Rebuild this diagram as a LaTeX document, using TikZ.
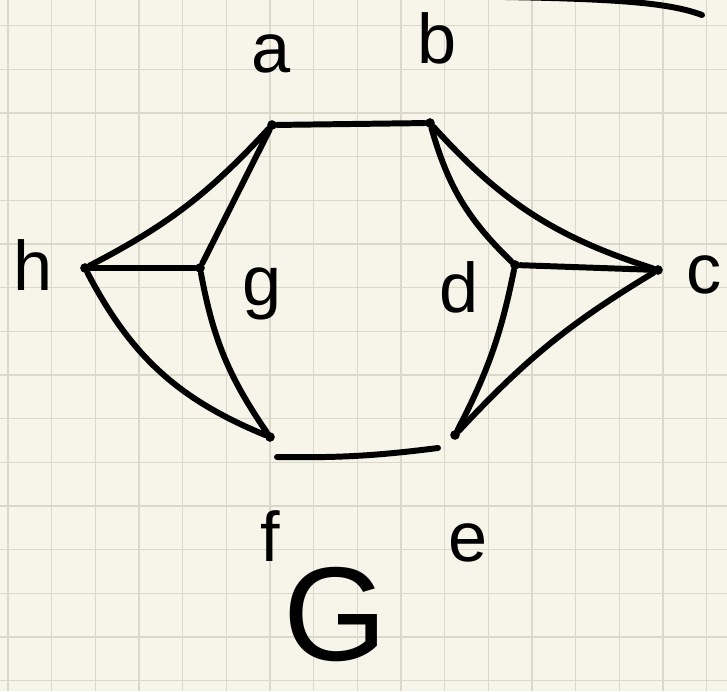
\documentclass[tikz,border=0pt]{standalone}
\usepackage{fontspec}
\setmainfont{Liberation Sans}
\usepackage{xcolor}
\usetikzlibrary{positioning,calc}
\definecolor{paper}{HTML}{F7F5EA}
\definecolor{gridln}{HTML}{DAD8CB}

\begin{document}
\begin{tikzpicture}[x=0.02cm, y=-0.02cm,
  vtx/.style={circle, fill=black, inner sep=0pt, minimum size=5.5pt},
  pen/.style={line width=3.4pt, line cap=round},
  lbl/.style={font=\fontsize{40}{40}\selectfont, inner sep=0pt, anchor=base},
  big/.style={font=\fontsize{76}{76}\selectfont, inner sep=0pt, anchor=base}]
\useasboundingbox (0,0) rectangle (727,691);
\clip (0,0) rectangle (727,691);
\fill[paper] (0,0) rectangle (727,691);
\foreach \i in {0,...,16}
  \draw[gridln, line width=0.8pt] ({8+43.67*\i},0) -- ({8+43.67*\i},691);
\foreach \j in {0,...,15}
  \draw[gridln, line width=0.8pt] (0,{25.7+43.67*\j}) -- (727,{25.7+43.67*\j});
\node[vtx] (a) at (272,125) {};
\node[vtx] (b) at (430,123) {};
\node[vtx] (c) at (658,270) {};
\node[vtx] (d) at (515,265) {};
\node[vtx] (e) at (455,435) {};
\node[vtx] (f) at (270,437) {};
\node[vtx] (g) at (200,268) {};
\node[vtx] (h) at (85,268) {};
\node[lbl] (la) at (271,72) {a};
\node[lbl] (lb) at (437,63) {b};
\node[lbl] (lc) at (704,293) {c};
\node[lbl] (ld) at (459,312) {d};
\node[lbl] (le) at (468,561) {e};
\node[lbl] (lf) at (270,561) {f};
\node[lbl] (lg) at (262,305) {g};
\node[lbl] (lh) at (33,290) {h};
\node[big] (lG) at (335,660) {G};
\draw[pen] (a) -- (b);
\draw[pen] (h) to[bend right=10] (a);
\draw[pen] (a) -- (g);
\draw[pen] (h) -- (g);
\draw[pen] (h) to[bend right=20] (f);
\draw[pen] (g) to[bend right=12] (f);
\draw[pen] ([shift={(7,20)}]f.center) to[bend right=4] ([shift={(-17,13)}]e.center);
\draw[pen] (b) to[bend right=15] (d);
\draw[pen] (b) to[bend right=15] (c);
\draw[pen] (d) -- (c);
\draw[pen] (d) to[bend left=8] (e);
\draw[pen] (c) to[bend right=8] (e);
\draw[pen] (505,-3) .. controls (620,-1) and (670,3) .. (702,15);
\end{tikzpicture}
\end{document}
